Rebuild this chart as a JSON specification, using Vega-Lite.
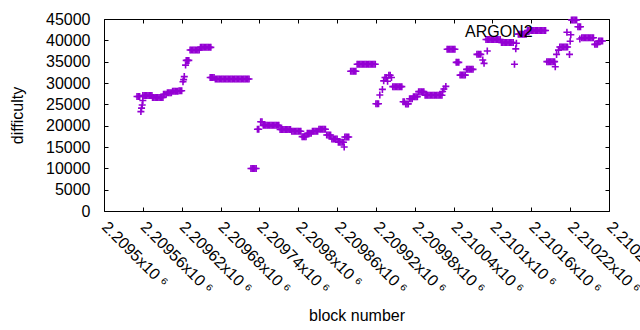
{
"$schema": "https://vega.github.io/schema/vega-lite/v6.json",
"width": 505,
"height": 192,
"autosize": {"type": "none"},
"padding": {"left": 104, "top": 19, "right": 31, "bottom": 119},
"background": "white",
"config": {
  "view": {"stroke": null},
  "font": "Liberation Sans",
  "axis": {"grid": false, "domainColor": "black", "tickColor": "black", "labelColor": "black", "titleColor": "black", "labelFontSize": 16, "titleFontSize": 16, "titleFontWeight": "normal", "labelFont": "Liberation Sans", "titleFont": "Liberation Sans", "tickSize": -4, "domainWidth": 1, "tickWidth": 1, "labelOverlap": false, "labelFlush": false}
},
"data": {"values": [
{"block":2209551,"difficulty":26850},{"block":2209553,"difficulty":26850},{"block":2209555,"difficulty":26850},
{"block":2209557,"difficulty":23300},{"block":2209558,"difficulty":24100},{"block":2209559,"difficulty":24850},{"block":2209560,"difficulty":25900},
{"block":2209560,"difficulty":27050},{"block":2209562,"difficulty":27050},{"block":2209564,"difficulty":27050},{"block":2209566,"difficulty":27050},{"block":2209568,"difficulty":27050},{"block":2209570,"difficulty":27050},{"block":2209572,"difficulty":27050},{"block":2209574,"difficulty":27050},
{"block":2209575,"difficulty":26600},{"block":2209577,"difficulty":26600},{"block":2209579,"difficulty":26600},{"block":2209581,"difficulty":26600},{"block":2209583,"difficulty":26600},{"block":2209585,"difficulty":26600},{"block":2209587,"difficulty":26600},{"block":2209589,"difficulty":26600},{"block":2209591,"difficulty":26600},
{"block":2209592,"difficulty":27350},{"block":2209594,"difficulty":27350},{"block":2209596,"difficulty":27350},
{"block":2209598,"difficulty":27730},{"block":2209600,"difficulty":27730},{"block":2209602,"difficulty":27730},{"block":2209604,"difficulty":27730},
{"block":2209606,"difficulty":28050},{"block":2209608,"difficulty":28050},{"block":2209610,"difficulty":28050},{"block":2209612,"difficulty":28050},{"block":2209614,"difficulty":28050},
{"block":2209616,"difficulty":28200},{"block":2209618,"difficulty":28200},{"block":2209620,"difficulty":28200},
{"block":2209622,"difficulty":30300},{"block":2209623,"difficulty":30800},{"block":2209624,"difficulty":31500},{"block":2209626,"difficulty":34200},
{"block":2209627,"difficulty":35300},{"block":2209629,"difficulty":35300},{"block":2209631,"difficulty":35300},
{"block":2209633,"difficulty":37730},{"block":2209635,"difficulty":37730},{"block":2209637,"difficulty":37730},{"block":2209639,"difficulty":37730},{"block":2209641,"difficulty":37730},{"block":2209643,"difficulty":37730},{"block":2209645,"difficulty":37730},{"block":2209647,"difficulty":37730},
{"block":2209649,"difficulty":38360},{"block":2209651,"difficulty":38360},{"block":2209653,"difficulty":38360},{"block":2209655,"difficulty":38360},{"block":2209657,"difficulty":38360},{"block":2209659,"difficulty":38360},{"block":2209661,"difficulty":38360},{"block":2209663,"difficulty":38360},{"block":2209665,"difficulty":38360},
{"block":2209664,"difficulty":31290},{"block":2209666,"difficulty":31290},{"block":2209668,"difficulty":31290},{"block":2209670,"difficulty":31290},
{"block":2209672,"difficulty":30940},{"block":2209674,"difficulty":30940},{"block":2209676,"difficulty":30940},{"block":2209678,"difficulty":30940},{"block":2209680,"difficulty":30940},{"block":2209682,"difficulty":30940},{"block":2209684,"difficulty":30940},{"block":2209686,"difficulty":30940},{"block":2209688,"difficulty":30940},{"block":2209690,"difficulty":30940},{"block":2209692,"difficulty":30940},{"block":2209694,"difficulty":30940},{"block":2209696,"difficulty":30940},{"block":2209698,"difficulty":30940},{"block":2209700,"difficulty":30940},{"block":2209702,"difficulty":30940},{"block":2209704,"difficulty":30940},{"block":2209706,"difficulty":30940},{"block":2209708,"difficulty":30940},{"block":2209710,"difficulty":30940},{"block":2209712,"difficulty":30940},{"block":2209714,"difficulty":30940},{"block":2209716,"difficulty":30940},{"block":2209718,"difficulty":30940},{"block":2209720,"difficulty":30940},{"block":2209722,"difficulty":30940},{"block":2209724,"difficulty":30940},
{"block":2209727,"difficulty":9950},{"block":2209729,"difficulty":9950},{"block":2209731,"difficulty":9950},{"block":2209733,"difficulty":9950},{"block":2209735,"difficulty":9950},
{"block":2209737,"difficulty":19150},{"block":2209739,"difficulty":19150},
{"block":2209742,"difficulty":20930},{"block":2209744,"difficulty":20930},
{"block":2209746,"difficulty":20080},{"block":2209748,"difficulty":20080},{"block":2209750,"difficulty":20080},{"block":2209752,"difficulty":20080},{"block":2209754,"difficulty":20080},{"block":2209756,"difficulty":20080},{"block":2209758,"difficulty":20080},{"block":2209760,"difficulty":20080},{"block":2209762,"difficulty":20080},{"block":2209764,"difficulty":20080},{"block":2209766,"difficulty":20080},{"block":2209768,"difficulty":20080},{"block":2209770,"difficulty":20080},
{"block":2209772,"difficulty":19100},{"block":2209774,"difficulty":19100},{"block":2209776,"difficulty":19100},{"block":2209778,"difficulty":19100},{"block":2209780,"difficulty":19100},{"block":2209782,"difficulty":19100},{"block":2209784,"difficulty":19100},{"block":2209786,"difficulty":19100},{"block":2209788,"difficulty":19100},
{"block":2209790,"difficulty":18700},{"block":2209792,"difficulty":18700},{"block":2209794,"difficulty":18700},{"block":2209796,"difficulty":18700},{"block":2209798,"difficulty":18700},{"block":2209800,"difficulty":18700},{"block":2209802,"difficulty":18700},{"block":2209804,"difficulty":18700},
{"block":2209806,"difficulty":17420},{"block":2209808,"difficulty":17420},{"block":2209810,"difficulty":17420},{"block":2209812,"difficulty":17420},
{"block":2209814,"difficulty":18200},{"block":2209816,"difficulty":18200},{"block":2209818,"difficulty":18200},{"block":2209820,"difficulty":18200},
{"block":2209822,"difficulty":18680},{"block":2209824,"difficulty":18680},{"block":2209826,"difficulty":18680},{"block":2209828,"difficulty":18680},{"block":2209830,"difficulty":18680},
{"block":2209832,"difficulty":19150},{"block":2209834,"difficulty":19150},{"block":2209836,"difficulty":19150},{"block":2209838,"difficulty":19150},{"block":2209840,"difficulty":19150},{"block":2209842,"difficulty":19150},
{"block":2209844,"difficulty":17810},{"block":2209846,"difficulty":17810},{"block":2209848,"difficulty":17810},{"block":2209850,"difficulty":17810},
{"block":2209852,"difficulty":16900},{"block":2209854,"difficulty":16900},{"block":2209856,"difficulty":16900},{"block":2209858,"difficulty":16900},{"block":2209860,"difficulty":16900},
{"block":2209862,"difficulty":16100},{"block":2209864,"difficulty":16100},{"block":2209866,"difficulty":16100},{"block":2209868,"difficulty":16100},{"block":2209870,"difficulty":16100},
{"block":2209871,"difficulty":15000},
{"block":2209872,"difficulty":17340},{"block":2209874,"difficulty":17340},{"block":2209876,"difficulty":17340},{"block":2209878,"difficulty":17340},
{"block":2209881,"difficulty":32740},{"block":2209883,"difficulty":32740},{"block":2209885,"difficulty":32740},{"block":2209887,"difficulty":32740},{"block":2209889,"difficulty":32740},
{"block":2209891,"difficulty":34380},{"block":2209893,"difficulty":34380},{"block":2209895,"difficulty":34380},{"block":2209897,"difficulty":34380},{"block":2209899,"difficulty":34380},{"block":2209901,"difficulty":34380},{"block":2209903,"difficulty":34380},{"block":2209905,"difficulty":34380},{"block":2209907,"difficulty":34380},{"block":2209909,"difficulty":34380},{"block":2209911,"difficulty":34380},{"block":2209913,"difficulty":34380},{"block":2209915,"difficulty":34380},{"block":2209917,"difficulty":34380},{"block":2209919,"difficulty":34380},
{"block":2209920,"difficulty":25150},{"block":2209922,"difficulty":25150},{"block":2209924,"difficulty":25150},
{"block":2209926,"difficulty":27200},{"block":2209930,"difficulty":28500},{"block":2209932,"difficulty":30500},{"block":2209934,"difficulty":31300},{"block":2209936,"difficulty":31300},{"block":2209938,"difficulty":30400},{"block":2209940,"difficulty":31800},{"block":2209942,"difficulty":31800},{"block":2209944,"difficulty":31300},
{"block":2209946,"difficulty":29140},{"block":2209948,"difficulty":29140},{"block":2209950,"difficulty":29140},{"block":2209952,"difficulty":29140},{"block":2209954,"difficulty":29140},{"block":2209956,"difficulty":29140},{"block":2209958,"difficulty":29140},{"block":2209960,"difficulty":29140},
{"block":2209962,"difficulty":25600},{"block":2209964,"difficulty":25600},{"block":2209966,"difficulty":25100},{"block":2209968,"difficulty":25100},{"block":2209970,"difficulty":25100},
{"block":2209972,"difficulty":26300},{"block":2209974,"difficulty":26300},{"block":2209976,"difficulty":26300},
{"block":2209978,"difficulty":26800},{"block":2209980,"difficulty":26800},{"block":2209982,"difficulty":26800},{"block":2209984,"difficulty":26800},
{"block":2209986,"difficulty":27970},{"block":2209988,"difficulty":27970},{"block":2209990,"difficulty":27970},{"block":2209992,"difficulty":27970},{"block":2209994,"difficulty":27970},
{"block":2209996,"difficulty":27120},{"block":2209998,"difficulty":27120},{"block":2210000,"difficulty":27120},{"block":2210002,"difficulty":27120},{"block":2210004,"difficulty":27120},{"block":2210006,"difficulty":27120},{"block":2210008,"difficulty":27120},{"block":2210010,"difficulty":27120},{"block":2210012,"difficulty":27120},{"block":2210014,"difficulty":27120},{"block":2210016,"difficulty":27120},{"block":2210018,"difficulty":27120},{"block":2210020,"difficulty":27120},{"block":2210022,"difficulty":27120},
{"block":2210023,"difficulty":28000},{"block":2210025,"difficulty":28600},{"block":2210028,"difficulty":29200},
{"block":2210030,"difficulty":37900},{"block":2210032,"difficulty":37900},{"block":2210034,"difficulty":37900},{"block":2210036,"difficulty":37900},{"block":2210038,"difficulty":37900},{"block":2210040,"difficulty":37900},{"block":2210042,"difficulty":37900},
{"block":2210044,"difficulty":34840},{"block":2210046,"difficulty":34840},{"block":2210048,"difficulty":34840},
{"block":2210050,"difficulty":31850},{"block":2210052,"difficulty":31850},{"block":2210054,"difficulty":31850},{"block":2210056,"difficulty":31850},{"block":2210058,"difficulty":31850},
{"block":2210060,"difficulty":33200},{"block":2210062,"difficulty":33200},{"block":2210064,"difficulty":33200},{"block":2210066,"difficulty":33200},{"block":2210068,"difficulty":33200},{"block":2210070,"difficulty":33200},
{"block":2210076,"difficulty":36720},{"block":2210078,"difficulty":36720},{"block":2210080,"difficulty":36720},{"block":2210082,"difficulty":36720},
{"block":2210085,"difficulty":35400},{"block":2210087,"difficulty":34600},{"block":2210092,"difficulty":37500},
{"block":2210090,"difficulty":40200},{"block":2210092,"difficulty":40200},{"block":2210094,"difficulty":40200},{"block":2210096,"difficulty":40200},{"block":2210098,"difficulty":40200},{"block":2210100,"difficulty":40200},{"block":2210102,"difficulty":40200},{"block":2210104,"difficulty":40200},{"block":2210106,"difficulty":40200},{"block":2210108,"difficulty":40200},{"block":2210110,"difficulty":40200},{"block":2210112,"difficulty":40200},
{"block":2210114,"difficulty":39500},{"block":2210116,"difficulty":39500},{"block":2210118,"difficulty":39500},{"block":2210120,"difficulty":39500},{"block":2210122,"difficulty":39500},{"block":2210124,"difficulty":39500},{"block":2210126,"difficulty":39500},{"block":2210128,"difficulty":39500},{"block":2210130,"difficulty":39500},{"block":2210132,"difficulty":39500},
{"block":2210134,"difficulty":34400},{"block":2210136,"difficulty":38000},{"block":2210137,"difficulty":39300},
{"block":2210140,"difficulty":41450},{"block":2210142,"difficulty":41450},{"block":2210144,"difficulty":41450},{"block":2210146,"difficulty":41450},{"block":2210148,"difficulty":41450},{"block":2210150,"difficulty":41450},{"block":2210152,"difficulty":41450},
{"block":2210154,"difficulty":42300},{"block":2210156,"difficulty":42300},{"block":2210158,"difficulty":42300},{"block":2210160,"difficulty":42300},{"block":2210162,"difficulty":42300},{"block":2210164,"difficulty":42300},{"block":2210166,"difficulty":42300},{"block":2210168,"difficulty":42300},{"block":2210170,"difficulty":42300},{"block":2210172,"difficulty":42300},{"block":2210174,"difficulty":42300},{"block":2210176,"difficulty":42300},{"block":2210178,"difficulty":42300},{"block":2210180,"difficulty":42300},{"block":2210182,"difficulty":42300},
{"block":2210184,"difficulty":35000},{"block":2210186,"difficulty":35000},{"block":2210188,"difficulty":35000},{"block":2210190,"difficulty":35000},{"block":2210192,"difficulty":35000},{"block":2210194,"difficulty":35000},{"block":2210196,"difficulty":35000},
{"block":2210197,"difficulty":33800},{"block":2210199,"difficulty":36700},{"block":2210202,"difficulty":37700},
{"block":2210204,"difficulty":38440},{"block":2210206,"difficulty":38440},{"block":2210208,"difficulty":38440},{"block":2210210,"difficulty":38440},{"block":2210212,"difficulty":38440},{"block":2210214,"difficulty":38440},{"block":2210216,"difficulty":38440},
{"block":2210215,"difficulty":41900},{"block":2210221,"difficulty":41300},{"block":2210220,"difficulty":39800},{"block":2210219,"difficulty":36700},
{"block":2210222,"difficulty":44770},{"block":2210224,"difficulty":44770},{"block":2210226,"difficulty":44770},{"block":2210228,"difficulty":44770},{"block":2210230,"difficulty":44770},
{"block":2210232,"difficulty":43200},{"block":2210234,"difficulty":43200},{"block":2210236,"difficulty":43200},
{"block":2210235,"difficulty":40300},
{"block":2210238,"difficulty":40620},{"block":2210240,"difficulty":40620},{"block":2210242,"difficulty":40620},{"block":2210244,"difficulty":40620},{"block":2210246,"difficulty":40620},{"block":2210248,"difficulty":40620},{"block":2210250,"difficulty":40620},{"block":2210252,"difficulty":40620},{"block":2210254,"difficulty":40620},{"block":2210256,"difficulty":40620},
{"block":2210258,"difficulty":39060},{"block":2210260,"difficulty":39060},{"block":2210262,"difficulty":39060},
{"block":2210264,"difficulty":39840},{"block":2210266,"difficulty":39840},{"block":2210268,"difficulty":39840},{"block":2210270,"difficulty":39840}
]},
"layer": [
  {
    "mark": {"type": "point", "shape": "M-1,0H1M0,-1V1", "filled": false, "size": 49, "strokeWidth": 1.6, "opacity": 1},
    "encoding": {
      "x": {"field": "block", "type": "quantitative", "scale": {"domain": [2209500, 2210280], "nice": false, "zero": false},
        "axis": {"orient": "bottom", "values": [2209500,2209560,2209620,2209680,2209740,2209800,2209860,2209920,2209980,2210040,2210100,2210160,2210220,2210280],
          "labelExpr": "format(datum.value/1000000, '.5~f') + 'x10 ⁶'", "labelAngle": 45, "labelAlign": "left", "labelBaseline": "middle", "labelPadding": 17,
          "title": "block number", "titleX": 252.5, "titleY": 104, "titleAlign": "center", "titleBaseline": "middle"}},
      "y": {"field": "difficulty", "type": "quantitative", "scale": {"domain": [0, 45000], "nice": false, "zero": true},
        "axis": {"orient": "left", "format": "d", "values": [0,5000,10000,15000,20000,25000,30000,35000,40000,45000], "labelPadding": 18,
          "title": "difficulty", "titleX": -87, "titleY": 96, "titleAngle": 270, "titleAlign": "center", "titleBaseline": "middle"}},
      "color": {"datum": "ARGON2", "scale": {"range": ["#9400D3"]},
        "legend": {"orient": "none", "legendX": 345, "legendY": 5, "title": null, "labelFontSize": 16, "labelFont": "Liberation Sans", "labelColor": "black", "symbolSize": 0, "symbolOpacity": 0, "symbolStrokeWidth": 0, "labelOffset": 0, "padding": 0}}
    }
  },
  {
    "mark": {"type": "point", "opacity": 0},
    "encoding": {
      "x": {"field": "block", "type": "quantitative", "scale": {"domain": [2209500, 2210280], "nice": false, "zero": false},
        "axis": {"orient": "top", "values": [2209500,2209560,2209620,2209680,2209740,2209800,2209860,2209920,2209980,2210040,2210100,2210160,2210220,2210280], "labels": false, "title": null}},
      "y": {"field": "difficulty", "type": "quantitative", "scale": {"domain": [0, 45000], "nice": false, "zero": true},
        "axis": {"orient": "right", "values": [0,5000,10000,15000,20000,25000,30000,35000,40000,45000], "labels": false, "title": null}}
    }
  }
],
"resolve": {"axis": {"x": "independent", "y": "independent"}}
}
